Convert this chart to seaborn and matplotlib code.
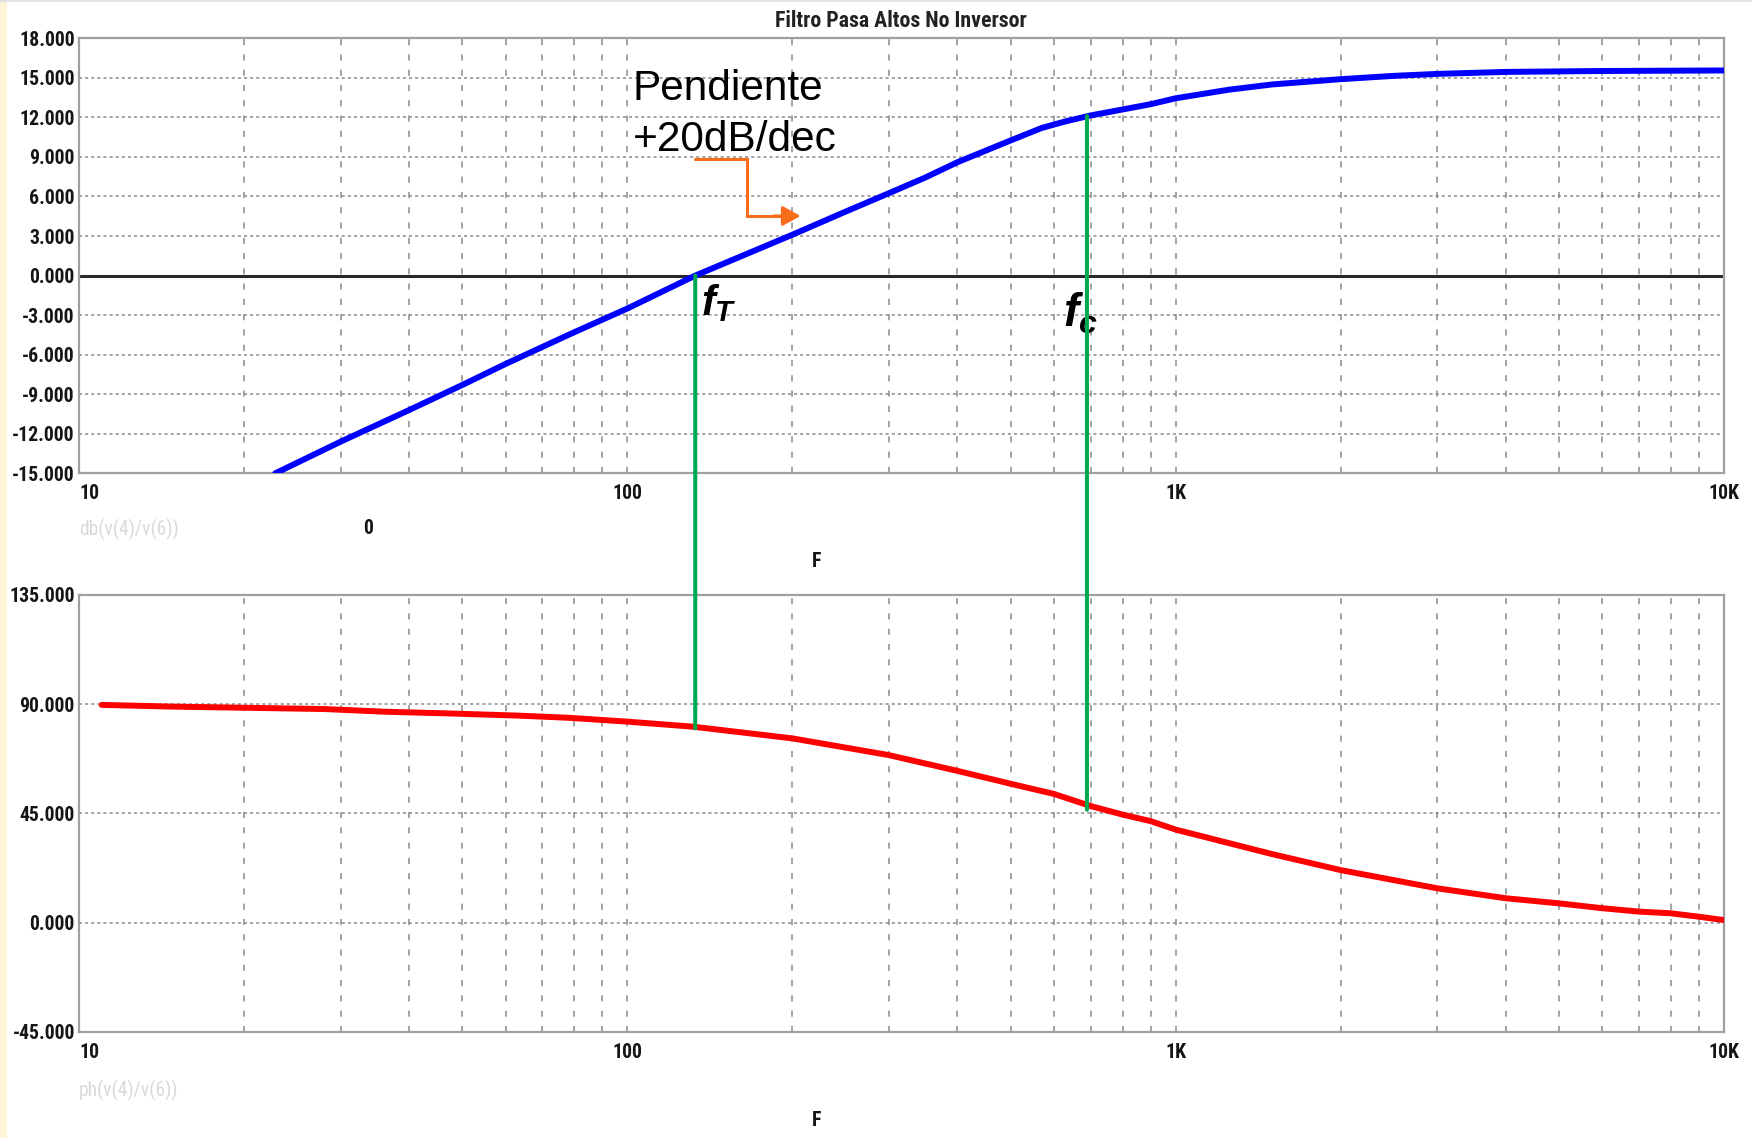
import numpy as np
import pandas as pd
import matplotlib
matplotlib.use("Agg")
import matplotlib.pyplot as plt
from matplotlib import font_manager
from matplotlib.font_manager import FontProperties
from matplotlib.patches import ConnectionPatch, Rectangle
from matplotlib.ticker import FixedLocator, NullLocator
import seaborn as sns

# ---- Bode data of the non-inverting high-pass filter ----
freq_mag = [22.8, 30, 40, 50, 60, 80, 100, 133, 200, 250, 300, 350, 400, 500, 570,
            630, 700, 800, 900, 1000, 1250, 1500, 2000, 2500, 3000, 4000, 6000, 10000]
mag_db = [-15.0, -12.6, -10.2, -8.3, -6.7, -4.3, -2.5, 0.0, 3.1, 4.85, 6.25, 7.45,
          8.6, 10.25, 11.2, 11.7, 12.15, 12.6, 13.0, 13.45, 14.1, 14.5, 14.9, 15.15,
          15.3, 15.45, 15.52, 15.56]

freq_ph = [11, 14.8, 28, 36, 47, 63, 78, 100, 132, 200, 300, 400, 500, 600, 700,
           800, 900, 1000, 1500, 2000, 3000, 4000, 5000, 6000, 7000, 8000, 9000, 10000]
phase_deg = [89.7, 89.0, 88.0, 86.9, 86.2, 85.3, 84.4, 82.8, 80.7, 75.9, 69.0,
             62.5, 57.2, 53.0, 48.0, 44.5, 41.8, 38.3, 28.2, 21.6, 14.1, 10.0,
             7.9, 5.9, 4.5, 3.8, 2.4, 1.0]

# marker frequencies: unity-gain (f_T) and cut-off (f_c)
f_T, f_T_phase = 133, 80.0
f_c, f_c_gain, f_c_phase = 689, 12.1, 46.5

mag_ticks = [18, 15, 12, 9, 6, 3, 0, -3, -6, -9, -12, -15]
mag_ticklabels = ["18.000", "15.000", "12.000", "9.000", "6.000", "3.000", "0.000",
                  "-3.000", "-6.000", "-9.000", "-12.000", "-15.000"]
ph_ticks = [135, 90, 45, 0, -45]
ph_ticklabels = ["135.000", "90.000", "45.000", "0.000", "-45.000"]
x_ticks = [10, 100, 1000, 10000]
x_ticklabels = ["10", "100", "1K", "10K"]
x_minor = [m * d for d in (10, 100, 1000) for m in range(2, 10)]

title = "Filtro Pasa Altos No Inversor"
mag_trace = "db(v(4)/v(6))"
ph_trace = "ph(v(4)/v(6))"

# ---- styling ----
sns.set_theme(style="white")
plt.rcParams["font.family"] = ["Liberation Sans", "DejaVu Sans"]
plt.rcParams["mathtext.fontset"] = "custom"
plt.rcParams["mathtext.it"] = "Liberation Sans:italic:bold"
plt.rcParams["mathtext.rm"] = "Liberation Sans:bold"


def _weight(w):
    if isinstance(w, (int, float)):
        return int(w)
    return {"bold": 700, "semibold": 600, "demibold": 600, "heavy": 800,
            "black": 900, "medium": 500, "light": 300}.get(str(w), 400)


def narrow_font(bold):
    """Find a condensed sans face installed on the system."""
    order = ["liberation sans narrow", "arial narrow", "roboto condensed",
             "open sans condensed", "noto sans", "dejavu sans"]
    best = None
    for f in font_manager.fontManager.ttflist:
        nm = f.name.lower()
        cond = ("narrow" in nm or "condensed" in nm
                or str(f.stretch) in ("condensed", "semi-condensed",
                                      "extra-condensed", "ultra-condensed"))
        if not cond or f.style != "normal":
            continue
        wt = _weight(f.weight)
        if bold and wt < 600 or (not bold and wt >= 600):
            continue
        rank = next((i for i, o in enumerate(order) if nm.startswith(o)), len(order))
        key = (rank, abs(wt - (700 if bold else 400)))
        if best is None or key < best[0]:
            best = (key, f.fname)
    if best:
        return FontProperties(fname=best[1], size=15)
    return FontProperties(family="Liberation Sans",
                          weight="bold" if bold else "normal", size=15)


TXT = "#151515"
GRID = "#8a8a8a"
W, H, DPI = 1752, 1138, 100
fig = plt.figure(figsize=(W / DPI, H / DPI), dpi=DPI)
fig.patch.set_facecolor("white")
renderer = fig.canvas.get_renderer()


def sized(fp, sample, width_px):
    """Copy of fp scaled so that `sample` is width_px wide."""
    t = fig.text(0, 0, sample, fontproperties=fp)
    w = t.get_window_extent(renderer).width
    t.remove()
    out = fp.copy()
    out.set_size(fp.get_size_in_points() * width_px / w)
    return out


NB = narrow_font(True)
NR = narrow_font(False)
TICK_FP = sized(NB, "18.000", 56)
TITLE_FP = sized(NB, title, 252)
TRACE_FP = sized(NR, mag_trace, 100)


def fx(x):
    return x / W


def fy(y):
    return 1 - y / H


# pale strip on the left edge and thin line on top
fig.add_artist(Rectangle((0, 0), fx(7), 1, transform=fig.transFigure,
                         facecolor="#FFF4D8", edgecolor="none"))
fig.add_artist(Rectangle((0, fy(1.5)), 1, fy(0) - fy(1.5), transform=fig.transFigure,
                         facecolor="#e2e2e2", edgecolor="none"))

L, R = 79, 1724
ax1 = fig.add_axes([fx(L), fy(473.3), fx(R) - fx(L), fy(38.3) - fy(473.3)])
ax2 = fig.add_axes([fx(L), fy(1031.7), fx(R) - fx(L), fy(595) - fy(1031.7)])

for ax, yt, ytl, ylim in ((ax1, mag_ticks, mag_ticklabels, (-15, 18)),
                          (ax2, ph_ticks, ph_ticklabels, (-45, 135))):
    ax.set_xscale("log")
    ax.set_xlim(10, 10000)
    ax.set_ylim(*ylim)
    ax.set_facecolor("white")
    ax.set_axisbelow(True)
    for s in ax.spines.values():
        s.set_color("#a0a0a0")
        s.set_linewidth(1.6)
    ax.xaxis.set_major_locator(FixedLocator(x_ticks))
    ax.xaxis.set_minor_locator(FixedLocator(x_minor))
    ax.set_xticks(x_ticks)
    ax.set_xticklabels(x_ticklabels, fontproperties=TICK_FP, color=TXT)
    ax.set_yticks(yt)
    ax.set_yticklabels(ytl, fontproperties=TICK_FP, color=TXT)
    ax.yaxis.set_minor_locator(NullLocator())
    ax.tick_params(axis="both", which="both", length=0)
    ax.tick_params(axis="y", pad=3)
    ax.tick_params(axis="x", pad=8)
    ax.get_xticklabels()[0].set_ha("left")
    ax.xaxis.grid(True, which="both", color=GRID, lw=1.1, linestyle=(0, (4, 6)))
    ax.yaxis.grid(True, which="major", color=GRID, lw=1.1, linestyle=(0, (2, 2)))

ax1.axhline(0, color="#2a2a2a", lw=2.2, zorder=1.5)

mag_df = pd.DataFrame({"F": freq_mag, "dB": mag_db})
ph_df = pd.DataFrame({"F": freq_ph, "deg": phase_deg})
sns.lineplot(data=mag_df, x="F", y="dB", ax=ax1, color="#0000FF", lw=4.3, zorder=3)
sns.lineplot(data=ph_df, x="F", y="deg", ax=ax2, color="#FF0000", lw=4.3, zorder=3)
for ax in (ax1, ax2):
    ax.set_xlabel("")
    ax.set_ylabel("")

# vertical markers joining gain and phase plots
GREEN = "#00A84F"
for fa, ya, yb in ((f_T, 0.0, f_T_phase), (f_c, f_c_gain, f_c_phase)):
    con = ConnectionPatch(xyA=(fa, ya), coordsA=ax1.transData,
                          xyB=(fa, yb), coordsB=ax2.transData,
                          color=GREEN, lw=2.9, zorder=5)
    fig.add_artist(con)

# slope annotation
ORANGE = "#F86D1C"
ax1.plot([133, 165, 165, 190], [8.84, 8.84, 4.52, 4.52], color=ORANGE, lw=2.2,
         solid_joinstyle="miter", zorder=4)
ax1.annotate("", xy=(207, 4.52), xytext=(185, 4.52),
             arrowprops=dict(arrowstyle="-|>,head_length=0.4,head_width=0.22",
                             mutation_scale=27, color=ORANGE, lw=2.2,
                             shrinkA=0, shrinkB=0), zorder=4)
fig.text(fx(633), fy(100.5), "Pendiente", fontsize=30.5, color="black",
         va="baseline", ha="left", family="Liberation Sans")
fig.text(fx(633), fy(151), "+20dB/dec", fontsize=30.5, color="black",
         va="baseline", ha="left", family="Liberation Sans")

fig.text(fx(701), fy(315), r"$f_T$", fontsize=30, color="black", va="baseline", ha="left")
fig.text(fx(1063), fy(327), r"$f_c$", fontsize=33, color="black", va="baseline", ha="left")

# title and trace labels
fig.text(fx(901), fy(21), title, fontproperties=TITLE_FP, color="#222222",
         ha="center", va="center")
fig.text(fx(79), fy(529), mag_trace, fontproperties=TRACE_FP, color="#d9d9d9",
         ha="left", va="center")
fig.text(fx(368), fy(528), "0", fontproperties=TICK_FP, color=TXT,
         ha="center", va="center")
fig.text(fx(817), fy(561), "F", fontproperties=TICK_FP, color=TXT,
         ha="center", va="center")
fig.text(fx(79), fy(1090), ph_trace, fontproperties=TRACE_FP, color="#d9d9d9",
         ha="left", va="center")
fig.text(fx(817), fy(1120), "F", fontproperties=TICK_FP, color=TXT,
         ha="center", va="center")

fig.savefig("out.png", dpi=DPI, facecolor=fig.get_facecolor())
